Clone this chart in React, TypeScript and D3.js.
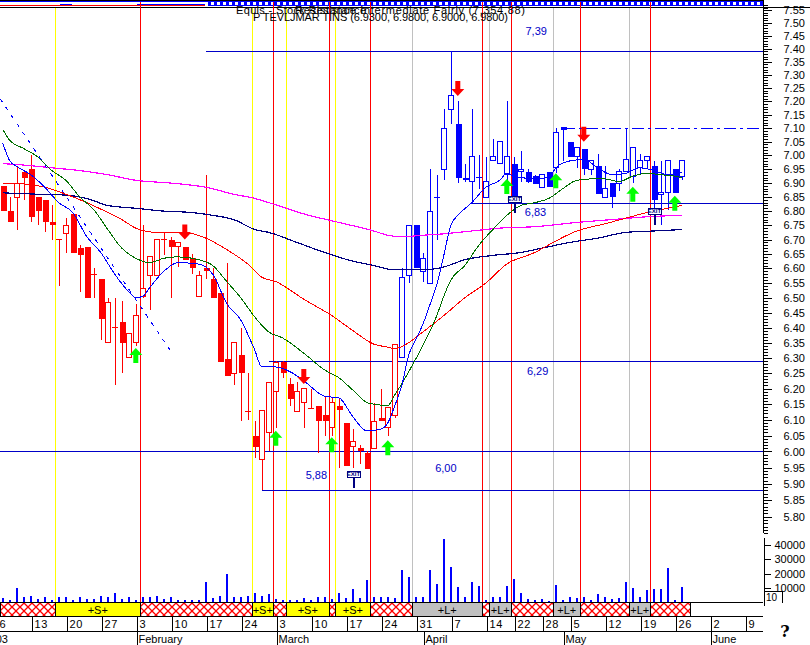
import React, { useEffect, useRef } from 'react'
import * as d3 from 'd3'

const WIDTH = 810
const HEIGHT = 645
const FONT = '"Liberation Sans", Arial, sans-serif'
const RED = '#ff0000'
const BLUE = '#0000ff'
const LEVEL_BLUE = '#0000c8'
const NAVY = '#000080'
const GREEN = '#006f00'
const MAGENTA = '#ff00ff'
const YELLOW = '#ffff00'
const GRAY = '#c0c0c0'

// daily prices, day 0 = 6 January
const opens = [6.89, 6.8, 6.85, 6.94, 6.95, 6.85, 6.84, 6.76, 6.7, 6.72, 6.79, 6.67, 6.675, 6.58, 6.565, 6.35, 6.4, 6.42, 6.3, 6.35, 6.505, 6.575, 6.575, 6.7, 6.7, 6.675, 6.675, 6.635, 6.505, 6.6, 6.565, 6.515, 6.295, 6.25, 6.31, 6.125, 6.05, 5.975, 6.06, 6.19, 6.285, 6.215, 6.125, 6.155, 6.135, 6.145, 6.115, 6.075, 6.145, 6.09, 6.015, 6.01, 5.995, 6.01, 6.105, 6.075, 6.115, 6.3, 6.575, 6.75, 6.59, 6.55, 6.85, 6.95, 7.17, 7.115, 6.92, 6.905, 6.92, 6.85, 6.98, 6.97, 6.93, 6.97, 6.94, 6.94, 6.925, 6.885, 6.94, 6.955, 7.105, 7.05, 6.995, 7.025, 6.95, 6.96, 6.85, 6.9, 6.9, 6.94, 6.925, 6.955, 6.98, 6.96, 6.86, 6.865, 6.95, 6.925]
const highs = [6.89, 6.85, 6.96, 6.94, 7.0, 6.85, 6.84, 6.82, 6.7, 6.775, 6.79, 6.68, 6.675, 6.6, 6.565, 6.5, 6.5, 6.49, 6.38, 6.48, 6.75, 6.64, 6.7, 6.725, 6.71, 6.69, 6.675, 6.65, 6.59, 6.93, 6.6, 6.515, 6.62, 6.35, 6.4, 6.25, 6.095, 6.13, 6.22, 6.29, 6.29, 6.235, 6.22, 6.2, 6.2, 6.145, 6.175, 6.17, 6.17, 6.09, 6.07, 6.02, 6.0, 6.155, 6.2, 6.14, 6.345, 6.6, 6.75, 6.75, 6.655, 6.95, 6.93, 7.17, 7.39, 7.2, 6.97, 7.17, 7.0, 6.995, 7.06, 7.05, 7.2, 6.995, 7.015, 6.95, 6.93, 6.93, 6.94, 7.1, 7.105, 7.05, 7.03, 7.025, 6.985, 7.005, 6.96, 6.9, 6.95, 7.1, 7.03, 7.005, 6.995, 6.98, 6.98, 6.98, 6.95, 6.98]
const lows = [6.8, 6.76, 6.735, 6.84, 6.76, 6.75, 6.725, 6.7, 6.54, 6.655, 6.655, 6.52, 6.5, 6.5, 6.36, 6.35, 6.21, 6.25, 6.3, 6.34, 6.5, 6.46, 6.575, 6.645, 6.5, 6.605, 6.63, 6.58, 6.505, 6.565, 6.5, 6.285, 6.24, 6.21, 6.095, 6.1, 5.98, 5.88, 6.0, 6.075, 6.235, 6.145, 6.125, 6.075, 6.135, 5.995, 6.05, 6.05, 5.95, 5.955, 5.95, 5.96, 5.945, 6.01, 6.095, 6.05, 6.105, 6.3, 6.55, 6.6, 6.555, 6.55, 6.7, 6.91, 7.115, 6.9, 6.905, 6.83, 6.88, 6.85, 6.98, 6.97, 6.9, 6.855, 6.905, 6.9, 6.895, 6.885, 6.885, 6.935, 6.98, 6.995, 6.955, 6.93, 6.93, 6.86, 6.85, 6.81, 6.87, 6.94, 6.9, 6.93, 6.955, 6.8, 6.75, 6.805, 6.865, 6.91]
const closes = [6.8, 6.76, 6.9, 6.92, 6.78, 6.8, 6.76, 6.75, 6.7, 6.75, 6.655, 6.645, 6.5, 6.58, 6.43, 6.485, 6.4, 6.35, 6.38, 6.44, 6.53, 6.64, 6.7, 6.7, 6.675, 6.69, 6.63, 6.6, 6.575, 6.59, 6.5, 6.285, 6.24, 6.35, 6.25, 6.125, 6.015, 6.13, 6.22, 6.285, 6.25, 6.165, 6.19, 6.2, 6.135, 6.095, 6.095, 6.155, 6.13, 5.955, 6.03, 6.0, 5.945, 6.095, 6.095, 6.14, 6.345, 6.57, 6.75, 6.6, 6.635, 6.8, 6.85, 7.1, 7.22, 6.92, 6.91, 6.995, 6.92, 6.905, 6.995, 7.05, 6.995, 6.855, 6.95, 6.905, 6.897, 6.93, 6.885, 7.085, 7.095, 6.995, 7.03, 6.95, 6.98, 6.86, 6.88, 6.85, 6.94, 6.985, 7.03, 6.98, 6.995, 6.84, 6.865, 6.98, 6.865, 6.98]
const volumes = [2800, 1400, 10000, 3500, 4400, 2100, 3500, 1400, 3700, 3700, 1400, 3500, 2500, 2500, 4400, 3700, 6500, 2100, 3700, 1400, 3700, 3500, 4400, 2100, 3500, 1400, 1400, 1400, 1400, 14100, 2800, 4400, 19700, 3700, 3500, 4400, 6500, 4400, 5800, 2300, 1400, 1400, 1400, 2800, 1900, 3700, 3700, 2100, 6500, 2800, 9300, 2800, 15500, 3700, 3500, 3500, 2800, 22400, 17400, 3500, 3500, 22700, 12700, 44000, 24300, 10400, 3500, 13900, 11300, 1400, 3500, 3500, 11300, 16200, 6500, 2100, 1400, 2100, 700, 12000, 1400, 3500, 2800, 3500, 1400, 5800, 3500, 2100, 2800, 14100, 9700, 3500, 8600, 9000, 9000, 23800, 1400, 10400]
const BLUE_CANDLES_FROM = 57

const fastDays = [0, 1, 2, 4, 6, 8, 10, 12, 14, 16, 18, 19, 20, 21, 23, 25, 28, 29, 30, 32, 34, 36, 37, 39, 41, 43, 46, 48, 50, 52, 54, 55, 56, 57, 58, 59, 60, 61, 62, 63, 64, 65, 67, 69, 71, 72, 73, 74, 76, 78, 79, 81, 83, 85, 87, 89, 91, 93, 95, 97]
const fastValues = [7.045, 6.98, 6.96, 6.93, 6.885, 6.83, 6.795, 6.71, 6.655, 6.58, 6.52, 6.5, 6.505, 6.535, 6.59, 6.62, 6.615, 6.605, 6.58, 6.48, 6.425, 6.325, 6.27, 6.27, 6.255, 6.225, 6.175, 6.17, 6.11, 6.065, 6.07, 6.09, 6.145, 6.21, 6.31, 6.36, 6.41, 6.475, 6.545, 6.645, 6.75, 6.785, 6.83, 6.885, 6.91, 6.935, 6.925, 6.92, 6.915, 6.92, 6.955, 6.98, 6.985, 6.955, 6.93, 6.935, 6.955, 6.945, 6.93, 6.94]
const midDays = [0, 1, 3, 5, 7, 9, 11, 13, 15, 17, 19, 21, 23, 25, 28, 30, 32, 34, 36, 38, 40, 43, 46, 48, 50, 52, 53, 55, 56, 57, 58, 60, 62, 63, 64, 66, 68, 70, 72, 74, 76, 78, 80, 82, 84, 86, 88, 90, 92, 94, 96, 97]
const midValues = [7.095, 7.055, 7.025, 6.995, 6.945, 6.91, 6.85, 6.805, 6.735, 6.67, 6.635, 6.62, 6.635, 6.64, 6.63, 6.61, 6.555, 6.5, 6.435, 6.385, 6.365, 6.315, 6.26, 6.235, 6.195, 6.155, 6.15, 6.145, 6.18, 6.215, 6.255, 6.34, 6.44, 6.505, 6.56, 6.61, 6.68, 6.735, 6.785, 6.82, 6.83, 6.845, 6.88, 6.91, 6.915, 6.915, 6.905, 6.925, 6.935, 6.93, 6.925, 6.92]
const slowDays = [0, 3, 6, 9, 12, 15, 17, 19, 22, 26, 29, 32, 35, 37, 39, 43, 47, 50, 53, 55, 56, 58, 60, 63, 66, 69, 72, 76, 79, 82, 86, 89, 92, 95, 97]
const slowValues = [6.9, 6.897, 6.885, 6.86, 6.83, 6.795, 6.77, 6.74, 6.725, 6.725, 6.705, 6.665, 6.615, 6.57, 6.555, 6.495, 6.44, 6.39, 6.345, 6.335, 6.33, 6.35, 6.385, 6.44, 6.5, 6.55, 6.615, 6.655, 6.695, 6.73, 6.755, 6.775, 6.795, 6.81, 6.82]
const navyDays = [0, 5, 9, 12, 15, 19, 23, 27, 30, 33, 36, 38, 42, 46, 50, 53, 56, 60, 63, 66, 70, 74, 77, 81, 85, 89, 93, 97]
const navyValues = [6.865, 6.86, 6.857, 6.845, 6.82, 6.81, 6.8, 6.795, 6.785, 6.77, 6.735, 6.725, 6.69, 6.655, 6.625, 6.61, 6.595, 6.595, 6.605, 6.63, 6.645, 6.655, 6.67, 6.69, 6.705, 6.725, 6.73, 6.735]
const longDays = [0, 3, 7, 11, 15, 19, 24, 29, 33, 36, 38, 43, 48, 53, 55, 57, 60, 63, 67, 71, 76, 82, 87, 92, 97]
const longValues = [6.97, 6.965, 6.955, 6.945, 6.93, 6.91, 6.9, 6.885, 6.86, 6.845, 6.83, 6.79, 6.76, 6.73, 6.715, 6.71, 6.715, 6.72, 6.73, 6.74, 6.745, 6.76, 6.77, 6.78, 6.785]

// hand drawn trend line
const trendDays = [-0.4, 23.9]
const trendValues = [7.21, 6.325]

// support / resistance levels
const levelValues = [7.39, 6.83, 6.29, 6.0, 5.88]
const levelStartDays = [29, 67, 38, -0.4, 37]
const levelTexts = ['7,39', '6,83', '6,29', '6,00', '5,88']
const levelTextDays = [76.2, 76.1, 76.4, 63.3, 44.8]
const levelTextOffsets = [-20, 9, 10, 17, -15]
const dashLevel = 7.1
const dashLevelStart = 80

// signal strip, one kind between each pair of edges
const stripEdges = [-0.4, 7.5, 19.64, 35.64, 38.64, 40.5, 46.64, 47.5, 52.5, 58.5, 68.5, 69.5, 72.64, 78.64, 82.5, 89.5, 92.5, 98.1]
const stripKinds = ['x', 'S', 'x', 'S', 'x', 'S', 'x', 'S', 'x', 'L', 'x', 'L', 'x', 'L', 'x', 'L', 'x']

// arrows and exit flags
const buyDays = [19, 39, 47, 55, 72, 79, 90, 96]
const buyPrices = [6.332, 6.065, 6.045, 6.035, 6.915, 6.935, 6.887, 6.855]
const sellDays = [26, 43, 65, 83]
const sellPrices = [6.7, 6.215, 7.22, 7.05]
const exitDays = [50, 73, 93]
const exitPrices = [5.886, 6.795, 6.75]

// calendar
const dateLabels = ['6', '13', '20', '27', '3', '10', '17', '24', '3', '10', '17', '24', '31', '7', '14', '22', '28', '5', '12', '19', '26', '2', '9']
const dateDays = [0, 5, 10, 15, 20, 25, 30, 35, 40, 45, 50, 55, 60, 65, 70, 74, 78, 82, 87, 92, 97, 102, 107]
const monthLabels = ['February', 'March', 'April', 'May', 'June']
const monthDays = [20, 40, 61, 81, 102]

const priceTicks = d3.range(0, 36).map((i) => 5.8 + i * 0.05)
const priceMinorTicks = d3.range(0, 183).map((i) => 5.75 + i * 0.01)
const volumeTicks = [10000, 20000, 30000, 40000]

const App = () => {
  const ref = useRef<SVGSVGElement>(null)

  useEffect(() => {
    const svg = d3.select(ref.current)
    svg.selectAll('*').remove()

    const x = d3.scaleLinear().domain([0, 1]).range([2.8, 9.8])
    const y = d3.scaleLog().domain([5.88, 7.39]).range([490.3, 51.3])
    const v = d3.scaleLinear().domain([0, 45000]).range([602.3, 537.5])
    const px = (n: number) => Math.round(n) + 0.5
    const AXIS_X = 763

    const days = d3.range(opens.length)
    const colorOf = (d: number) => (d >= BLUE_CANDLES_FROM ? BLUE : RED)

    const defs = svg.append('defs')
    const hatch = defs
      .append('pattern')
      .attr('id', 'hatch')
      .attr('width', 8)
      .attr('height', 8)
      .attr('patternUnits', 'userSpaceOnUse')
      .attr('y', 603)
    hatch.append('rect').attr('width', 8).attr('height', 8).attr('fill', '#fff')
    hatch
      .append('path')
      .attr('d', 'M0,0L8,8M8,0L0,8')
      .attr('stroke', RED)
      .attr('stroke-width', 1.3)
      .attr('fill', 'none')
    const squares = defs
      .append('pattern')
      .attr('id', 'squares')
      .attr('width', 6)
      .attr('height', 6)
      .attr('patternUnits', 'userSpaceOnUse')
      .attr('y', 1)
    squares.append('rect').attr('width', 6).attr('height', 6).attr('fill', BLUE)
    squares.append('rect').attr('x', 1).attr('y', 1).attr('width', 3).attr('height', 3).attr('fill', '#fff')

    svg.append('rect').attr('width', WIDTH).attr('height', HEIGHT).attr('fill', '#fff')

    // toolbar strip along the top
    const top = svg.append('g').attr('shape-rendering', 'crispEdges')
    top.append('rect').attr('x', 0).attr('y', 0).attr('width', AXIS_X).attr('height', 1).attr('fill', '#000')
    top.append('rect').attr('x', 0).attr('y', 1).attr('width', 210).attr('height', 1).attr('fill', BLUE)
    top.append('rect').attr('x', 0).attr('y', 5).attr('width', 205).attr('height', 1).attr('fill', RED)
    top.append('rect').attr('x', 60).attr('y', 4).attr('width', 12).attr('height', 1).attr('fill', BLUE)
    top.append('rect').attr('x', 137).attr('y', 4).attr('width', 68).attr('height', 1).attr('fill', BLUE)
    top.append('rect').attr('x', 208).attr('y', 1).attr('width', AXIS_X - 208).attr('height', 5).attr('fill', 'url(#squares)')
    top.append('rect').attr('x', 0).attr('y', 7).attr('width', WIDTH).attr('height', 1).attr('fill', '#000')

    // signal verticals
    const vertical = svg.append('g').attr('shape-rendering', 'crispEdges').attr('stroke-width', 1)
    stripKinds.forEach((kind, i) => {
      if (kind === 'x') return
      vertical
        .append('line')
        .attr('x1', px(x(stripEdges[i])))
        .attr('x2', px(x(stripEdges[i])))
        .attr('y1', 8)
        .attr('y2', 602)
        .attr('stroke', kind === 'S' ? YELLOW : GRAY)
      vertical
        .append('line')
        .attr('x1', px(x(stripEdges[i + 1])))
        .attr('x2', px(x(stripEdges[i + 1])))
        .attr('y1', 2)
        .attr('y2', 602)
        .attr('stroke', RED)
    })

    // levels
    const levels = svg.append('g').attr('shape-rendering', 'crispEdges')
    levels
      .selectAll('line')
      .data(levelValues)
      .join('line')
      .attr('x1', (_, i) => x(levelStartDays[i]))
      .attr('x2', AXIS_X)
      .attr('y1', (d) => px(y(d)))
      .attr('y2', (d) => px(y(d)))
      .attr('stroke', LEVEL_BLUE)
    svg
      .append('line')
      .attr('shape-rendering', 'crispEdges')
      .attr('x1', x(dashLevelStart))
      .attr('x2', AXIS_X)
      .attr('y1', px(y(dashLevel)))
      .attr('y2', px(y(dashLevel)))
      .attr('stroke', BLUE)
      .attr('stroke-dasharray', '12 4 3 4')

    // volume bars
    svg
      .append('g')
      .attr('shape-rendering', 'crispEdges')
      .selectAll('rect')
      .data(days)
      .join('rect')
      .attr('x', (d) => Math.round(x(d)) - 1)
      .attr('width', 2)
      .attr('y', (d) => v(volumes[d]))
      .attr('height', (d) => v(0) - v(volumes[d]))
      .attr('fill', BLUE)

    // candles
    const candles = svg
      .append('g')
      .attr('shape-rendering', 'crispEdges')
      .selectAll('g')
      .data(days)
      .join('g')
    candles
      .append('line')
      .attr('x1', (d) => px(x(d)))
      .attr('x2', (d) => px(x(d)))
      .attr('y1', (d) => y(highs[d]))
      .attr('y2', (d) => y(lows[d]))
      .attr('stroke', colorOf)
    candles
      .filter((d) => opens[d] !== closes[d])
      .append('rect')
      .attr('x', (d) => Math.round(x(d)) - 2.5)
      .attr('width', (d) => (opens[d] > closes[d] ? 6 : 5))
      .attr('y', (d) => y(Math.max(opens[d], closes[d])))
      .attr('height', (d) => Math.abs(y(opens[d]) - y(closes[d])))
      .attr('fill', (d) => (opens[d] > closes[d] ? colorOf(d) : '#fff'))
      .attr('stroke', (d) => (opens[d] > closes[d] ? 'none' : colorOf(d)))
    candles
      .filter((d) => opens[d] === closes[d])
      .append('line')
      .attr('x1', (d) => x(d) - 3)
      .attr('x2', (d) => x(d) + 3)
      .attr('y1', (d) => y(closes[d]))
      .attr('y2', (d) => y(closes[d]))
      .attr('stroke', colorOf)

    // moving averages
    const averages: [number[], number[], string][] = [
      [longDays, longValues, MAGENTA],
      [navyDays, navyValues, NAVY],
      [slowDays, slowValues, RED],
      [midDays, midValues, GREEN],
      [fastDays, fastValues, BLUE],
    ]
    const maLine = d3
      .line<[number, number]>()
      .x((d) => x(d[0]))
      .y((d) => y(d[1]))
      .curve(d3.curveMonotoneX)
    averages.forEach(([dd, vals, color]) => {
      svg
        .append('path')
        .attr('d', maLine(dd.map((d, i) => [d, vals[i]] as [number, number])))
        .attr('fill', 'none')
        .attr('stroke', color)
        .attr('stroke-width', color === MAGENTA || color === NAVY ? 1.2 : 1)
        .attr('shape-rendering', 'crispEdges')
    })

    svg
      .append('line')
      .attr('x1', x(trendDays[0]))
      .attr('x2', x(trendDays[1]))
      .attr('y1', y(trendValues[0]))
      .attr('y2', y(trendValues[1]))
      .attr('stroke', BLUE)
      .attr('stroke-dasharray', '4 6')
      .attr('shape-rendering', 'crispEdges')

    // arrows
    const arrowUp = 'M0,0L6.5,7L2.5,7L2.5,15L-2.5,15L-2.5,7L-6.5,7Z'
    const arrowDown = 'M0,0L6.5,-7L2.5,-7L2.5,-15L-2.5,-15L-2.5,-7L-6.5,-7Z'
    svg
      .append('g')
      .selectAll('path')
      .data(buyDays)
      .join('path')
      .attr('d', arrowUp)
      .attr('transform', (d, i) => `translate(${x(d)},${y(buyPrices[i])})`)
      .attr('fill', '#00ff00')
    svg
      .append('g')
      .selectAll('path')
      .data(sellDays)
      .join('path')
      .attr('d', arrowDown)
      .attr('transform', (d, i) => `translate(${x(d)},${y(sellPrices[i])})`)
      .attr('fill', RED)

    // exit flags
    const exits = svg
      .append('g')
      .selectAll('g')
      .data(exitDays)
      .join('g')
      .attr('transform', (d, i) => `translate(${px(x(d))},${Math.round(y(exitPrices[i]))})`)
    exits
      .append('line')
      .attr('y1', -11)
      .attr('y2', 0)
      .attr('stroke', NAVY)
      .attr('stroke-width', 2)
      .attr('shape-rendering', 'crispEdges')
    exits
      .append('rect')
      .attr('x', -6.5)
      .attr('y', -17)
      .attr('width', 13)
      .attr('height', 6)
      .attr('fill', '#fff')
      .attr('stroke', NAVY)
      .attr('shape-rendering', 'crispEdges')
    exits
      .append('text')
      .attr('y', -11.7)
      .attr('text-anchor', 'middle')
      .attr('font-family', FONT)
      .attr('font-size', 6)
      .attr('font-weight', 'bold')
      .attr('fill', NAVY)
      .text('EXIT')

    // level labels
    svg
      .append('g')
      .selectAll('text')
      .data(levelTexts)
      .join('text')
      .attr('x', (_, i) => x(levelTextDays[i]))
      .attr('y', (_, i) => y(levelValues[i]) + levelTextOffsets[i])
      .attr('dy', '0.35em')
      .attr('text-anchor', 'middle')
      .attr('font-family', FONT)
      .attr('font-size', 11)
      .attr('fill', LEVEL_BLUE)
      .text((d) => d)

    // title lines, printed over each other by the charting package
    const titles: [string, number, number, number][] = [
      ['Equis - Stock Resistance', 236, 13.5, 130],
      ['Resistance Intermediate Fairly (7,354.88)', 295, 13.5, 230],
      ['P TEVLJMAR TINS (6.9300, 6.9800, 6.9000, 6.9800)', 253, 20.7, 255],
    ]
    titles.forEach(([text, tx, ty, len]) => {
      svg
        .append('text')
        .attr('x', tx)
        .attr('y', ty)
        .attr('textLength', len)
        .attr('font-family', FONT)
        .attr('font-size', 11)
        .attr('fill', '#000')
        .text(text)
    })

    // price axis
    svg
      .append('g')
      .attr('transform', `translate(${AXIS_X + 0.5},0)`)
      .attr('shape-rendering', 'crispEdges')
      .call(d3.axisRight(y).tickValues(priceMinorTicks).tickSize(4).tickFormat(() => ''))
      .call((g: any) => g.select('.domain').remove())
    svg
      .append('line')
      .attr('x1', AXIS_X + 0.5)
      .attr('x2', AXIS_X + 0.5)
      .attr('y1', 0)
      .attr('y2', 533)
      .attr('stroke', '#000')
      .attr('shape-rendering', 'crispEdges')
    const priceAxis = svg
      .append('g')
      .attr('transform', `translate(${AXIS_X + 0.5},0)`)
      .attr('shape-rendering', 'crispEdges')
      .call(d3.axisRight(y).tickValues(priceTicks).tickSize(8).tickPadding(12).tickFormat(d3.format('.2f') as any))
    priceAxis.select('.domain').remove()
    priceAxis.selectAll('text').attr('font-family', FONT).attr('font-size', 11).attr('fill', '#000')

    // volume axis
    const volumeAxis = svg
      .append('g')
      .attr('transform', `translate(${AXIS_X + 0.5},0)`)
      .attr('shape-rendering', 'crispEdges')
      .call(d3.axisRight(v).tickValues(volumeTicks).tickSize(7).tickPadding(4).tickSizeOuter(0).tickFormat(d3.format('d') as any))
    volumeAxis.selectAll('text').attr('font-family', FONT).attr('font-size', 11).attr('fill', '#000')

    // scale box
    svg
      .append('rect')
      .attr('x', 764.5)
      .attr('y', 591.5)
      .attr('width', 18)
      .attr('height', 14)
      .attr('fill', '#fff')
      .attr('stroke', '#000')
      .attr('shape-rendering', 'crispEdges')
    svg
      .append('rect')
      .attr('x', 765)
      .attr('y', 603)
      .attr('width', 18)
      .attr('height', 4)
      .attr('fill', '#fff')
    svg
      .append('text')
      .attr('x', 766)
      .attr('y', 600.5)
      .attr('font-family', FONT)
      .attr('font-size', 10)
      .text('10')

    // signal strip
    const strip = svg.append('g').attr('shape-rendering', 'crispEdges')
    strip
      .selectAll('rect')
      .data(stripKinds)
      .join('rect')
      .attr('x', (_, i) => px(x(stripEdges[i])))
      .attr('width', (_, i) => px(x(stripEdges[i + 1])) - px(x(stripEdges[i])))
      .attr('y', 602.5)
      .attr('height', 14)
      .attr('fill', (d) => (d === 'S' ? YELLOW : d === 'L' ? GRAY : 'url(#hatch)'))
      .attr('stroke', '#000')
    svg
      .append('g')
      .selectAll('text')
      .data(stripKinds)
      .join('text')
      .attr('x', (_, i) => (x(stripEdges[i]) + x(stripEdges[i + 1])) / 2)
      .attr('y', 613.5)
      .attr('text-anchor', 'middle')
      .attr('font-family', FONT)
      .attr('font-size', 11)
      .attr('fill', '#000')
      .text((d) => (d === 'x' ? '' : `+${d}+`))

    // calendar rows
    const calendar = svg.append('g').attr('shape-rendering', 'crispEdges').attr('stroke', '#000')
    calendar.append('line').attr('x1', 0).attr('x2', AXIS_X).attr('y1', 602.5).attr('y2', 602.5)
    calendar.append('line').attr('x1', 0).attr('x2', AXIS_X).attr('y1', 616.5).attr('y2', 616.5)
    calendar.append('line').attr('x1', 0).attr('x2', AXIS_X).attr('y1', 631.5).attr('y2', 631.5)
    const tickX = (d: number) => Math.round(x(d) - 6) + 0.5
    calendar
      .append('g')
      .selectAll('line')
      .data(dateDays)
      .join('line')
      .attr('x1', tickX)
      .attr('x2', tickX)
      .attr('y1', 616)
      .attr('y2', 631)
    calendar
      .append('g')
      .selectAll('line')
      .data(monthDays)
      .join('line')
      .attr('x1', tickX)
      .attr('x2', tickX)
      .attr('y1', 631)
      .attr('y2', 645)
    svg
      .append('g')
      .selectAll('text')
      .data(dateLabels)
      .join('text')
      .attr('x', (_, i) => tickX(dateDays[i]) + 2)
      .attr('y', 628)
      .attr('font-family', FONT)
      .attr('font-size', 11)
      .attr('letter-spacing', 0.6)
      .text((d) => d)
    svg
      .append('g')
      .selectAll('text')
      .data(monthLabels)
      .join('text')
      .attr('x', (_, i) => tickX(monthDays[i]) + 1)
      .attr('y', 643)
      .attr('font-family', FONT)
      .attr('font-size', 11)
      .text((d) => d)
    svg
      .append('text')
      .attr('x', 8)
      .attr('y', 643)
      .attr('text-anchor', 'end')
      .attr('font-family', FONT)
      .attr('font-size', 11)
      .text('2003')
    svg
      .append('text')
      .attr('x', 785)
      .attr('y', 637)
      .attr('text-anchor', 'middle')
      .attr('font-family', '"DejaVu Serif", "Liberation Serif", serif')
      .attr('font-size', 16)
      .attr('font-weight', 'bold')
      .text('?')
  }, [])

  return (
    <svg
      ref={ref}
      width={WIDTH}
      height={HEIGHT}
      style={{ position: 'absolute', left: 0, top: 0, display: 'block' }}
    />
  )
}

export default App
